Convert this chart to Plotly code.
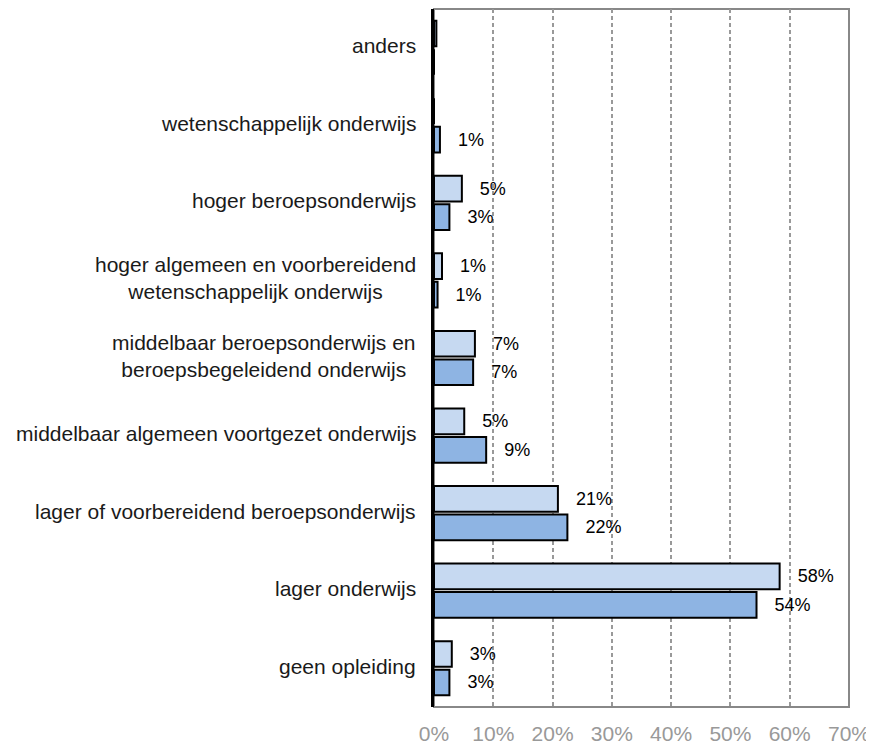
import plotly.graph_objects as go

categories = [
    "anders",
    "wetenschappelijk onderwijs",
    "hoger beroepsonderwijs",
    "hoger algemeen en voorbereidend<br>wetenschappelijk onderwijs",
    "middelbaar beroepsonderwijs en<br>beroepsbegeleidend onderwijs",
    "middelbaar algemeen voortgezet onderwijs",
    "lager of voorbereidend beroepsonderwijs",
    "lager onderwijs",
    "geen opleiding",
]
series_light = [0.4, 0.0, 4.7, 1.35, 6.9, 5.1, 20.9, 58.3, 3.0]
series_dark = [0.0, 1.0, 2.6, 0.6, 6.6, 8.8, 22.5, 54.4, 2.6]
tick_vals = [0, 10, 20, 30, 40, 50, 60, 70]
tick_text = ["0%", "10%", "20%", "30%", "40%", "50%", "60%", "70%"]

PAD = "\u00a0\u00a0\u00a0"


def labels(vals):
    return [f"{PAD}{round(v)}%" if v >= 0.5 else "" for v in vals]


FONT = "Liberation Sans, Arial, Helvetica, sans-serif"

fig = go.Figure()
for vals, color in [(series_light, "#C6D9F1"), (series_dark, "#8EB4E3")]:
    fig.add_trace(go.Bar(
        y=categories, x=vals, orientation="h",
        marker=dict(color=color, line=dict(color="black", width=2)),
        text=labels(vals), textposition="outside", cliponaxis=False,
        constraintext="none",
        textfont=dict(family=FONT, size=18, color="black"),
        hoverinfo="skip",
    ))

for c in categories:
    fig.add_annotation(
        x=0, xref="paper", y=c, yref="y", text=c, showarrow=False,
        xanchor="right", xshift=-16, yshift=2, align="center",
        font=dict(family=FONT, size=21, color="#1a1a1a"),
    )

fig.add_shape(type="rect", xref="paper", yref="paper", x0=0, x1=1, y0=0, y1=1,
              line=dict(color="#888888", width=2), layer="below")

fig.update_layout(
    width=866, height=741,
    margin=dict(l=426, r=25, t=1, b=42),
    paper_bgcolor="white", plot_bgcolor="white",
    barmode="group", bargap=0.265, bargroupgap=0.1,
    showlegend=False,
    font=dict(family=FONT),
)
fig.update_xaxes(
    range=[0, 70], tickvals=tick_vals, ticktext=tick_text,
    showgrid=True, gridcolor="#999999", gridwidth=1.5, griddash="4px,3px",
    zeroline=False, showline=False, ticks="",
    ticklabelstandoff=12,
    tickfont=dict(family=FONT, size=21, color="#999999"),
)
fig.update_yaxes(
    autorange="reversed", showticklabels=False, showgrid=False,
    zeroline=False, showline=True, linecolor="black", linewidth=3, ticks="",
)

fig.write_html("out.html")
